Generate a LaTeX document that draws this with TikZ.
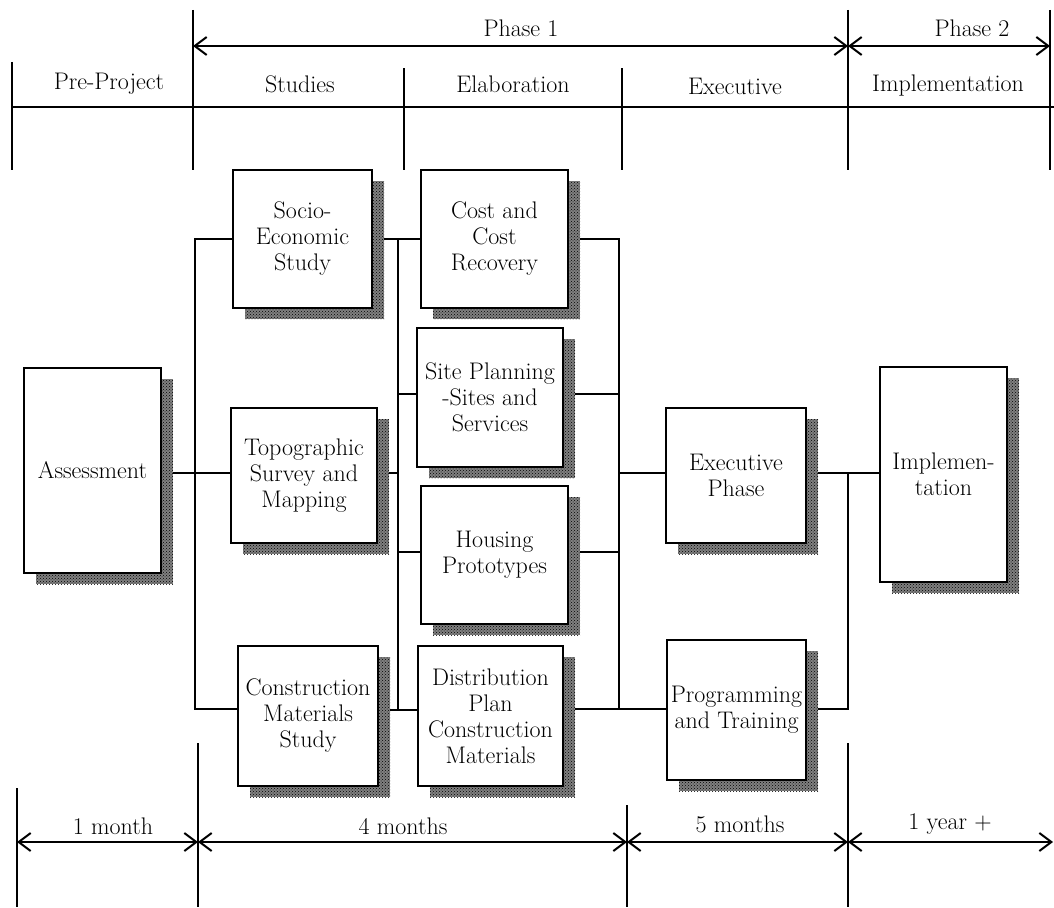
\documentclass[tikz,border=0pt]{standalone}
\usetikzlibrary{arrows.meta,patterns,shadows}
\pgfdeclarelayer{bg}
\pgfsetlayers{bg,main}
\begin{document}
\begin{tikzpicture}[x=1pt,y=-1pt,
  every node/.style={font=\fontsize{24}{26}\selectfont},
  box/.style={draw, line width=1.6pt, fill=white, align=center, inner sep=0pt,
     general shadow={shadow xshift=12pt, shadow yshift=-11pt, fill=black!50},
     general shadow={shadow xshift=12pt, shadow yshift=-11pt, pattern=crosshatch dots, pattern color=black}},
  rule/.style={line width=1.8pt},
  conn/.style={line width=1.2pt},
  thickconn/.style={line width=2.2pt},
  tipb/.tip={Straight Barb[length=12pt,width=18pt,line width=2pt]},
  span/.style={line width=1.8pt, tipb-tipb},
  lbl/.style={inner sep=0pt}
]
\begin{pgfonlayer}{bg}
\fill[white] (0,0) rectangle (1054,907);
\end{pgfonlayer}
\useasboundingbox (0,0) rectangle (1054,907);

% header
\node[lbl] (ph1) at (521,28) {Phase 1};
\node[lbl] (ph2) at (972,28) {Phase 2};
\node[lbl] (pre) at (109,84) {Pre-Project};
\node[lbl] (stu) at (300,84) {Studies};
\node[lbl] (ela) at (513,84) {Elaboration};
\node[lbl] (exe) at (735,86) {Executive};
\node[lbl] (imp) at (948,86) {Implementation};

\draw[rule] (193,10) -- (193,170);
\draw[rule] (848,10) -- (848,170);
\draw[rule] (1050,10) -- (1050,170);
\draw[rule] (12,62) -- (12,170);
\draw[rule] (404,68) -- (404,170);
\draw[rule] (622,68) -- (622,170);
\draw[rule] (12,107) -- (1054,107);
\coordinate (h1) at (193,46);
\coordinate (h2) at (848,46);
\coordinate (h3) at (1050,46);
\draw[span] (h1) -- (h2);
\draw[span] (h2) -- (h3);

% footer
\node[lbl] (m1) at (113,826) {1 month};
\node[lbl] (m4) at (403,826) {4 months};
\node[lbl] (m5) at (740,824) {5 months};
\node[lbl] (y1) at (950,824) {1 year +};
\draw[rule] (17,788) -- (17,907);
\draw[rule] (198,743) -- (198,907);
\draw[rule] (627,805) -- (627,907);
\draw[rule] (848,743) -- (848,907);
\coordinate (f1) at (17,842);
\coordinate (f2) at (198,842);
\coordinate (f3) at (627,842);
\coordinate (f4) at (848,842);
\coordinate (f5) at (1053,842);
\draw[span] (f1) -- (f2);
\draw[span] (f2) -- (f3);
\draw[span] (f3) -- (f4);
\draw[span] (f4) -- (f5);

% boxes
\node[box, minimum width=137pt, minimum height=205pt] (ass) at (92.5,470.5) {Assessment};
\node[box, minimum width=139pt, minimum height=138pt] (soc) at (302.5,239) {Socio-\\Economic\\Study};
\node[box, minimum width=146pt, minimum height=135pt] (topo) at (304,475.5) {Topographic\\Survey and\\Mapping};
\node[box, minimum width=140pt, minimum height=140pt] (con) at (308,716) {Construction\\Materials\\Study};
\node[box, minimum width=147pt, minimum height=138pt] (cost) at (494.5,239) {Cost and\\Cost\\Recovery};
\node[box, minimum width=146pt, minimum height=139pt] (site) at (490,397.5) {Site Planning\\-Sites and\\Services};
\node[box, minimum width=147pt, minimum height=138pt] (hous) at (494.5,555) {Housing\\Prototypes};
\node[box, minimum width=145pt, minimum height=140pt] (dist) at (490.5,716) {Distribution\\Plan\\Construction\\Materials};
\node[box, minimum width=140pt, minimum height=135pt] (exec) at (736,475.5) {Executive\\Phase};
\node[box, minimum width=139pt, minimum height=140pt] (prog) at (736.5,710) {Programming\\and Training};
\node[box, minimum width=127pt, minimum height=215pt] (impl) at (943.5,474.5) {Implemen-\\tation};

% connectors
\coordinate (b1t) at (195,239);
\coordinate (b1b) at (195,709);
\coordinate (b2t) at (398,239);
\coordinate (b2b) at (398,710);
\coordinate (b3t) at (619,239);
\coordinate (b3b) at (619,709);
\coordinate (b4t) at (848,473);
\coordinate (b4b) at (848,709);
\coordinate (mid) at (0,473);
\coordinate (r2) at (0,394);
\coordinate (r4) at (0,552);
\begin{pgfonlayer}{bg}
\draw[conn] (soc.west) -- (b1t) -- (b1b) -- (b1b -| con.west);
\draw[thickconn] (ass.east |- mid) -- (topo.west |- mid);
\draw[conn] (soc.east) -- (cost.west);
\draw[conn] (b2t) -- (b2b);
\draw[conn] (site.west |- r2) -- (b2t |- r2);
\draw[conn] (topo.east |- mid) -- (b2t |- mid);
\draw[conn] (hous.west |- r4) -- (b2t |- r4);
\draw[conn] (con.east |- b2b) -- (dist.west |- b2b);
\draw[conn] (cost.east) -- (b3t) -- (b3b) -- (prog.west |- b3b);
\draw[conn] (site.east |- r2) -- (b3t |- r2);
\draw[conn] (hous.east |- r4) -- (b3t |- r4);
\draw[conn] (dist.east |- b3b) -- (b3b);
\draw[conn] (b3t |- mid) -- (exec.west |- mid);
\draw[thickconn] (exec.east |- mid) -- (impl.west |- mid);
\draw[thickconn] (b4t) -- (b4b) -- (prog.east |- b4b);
\end{pgfonlayer}
\end{tikzpicture}
\end{document}
